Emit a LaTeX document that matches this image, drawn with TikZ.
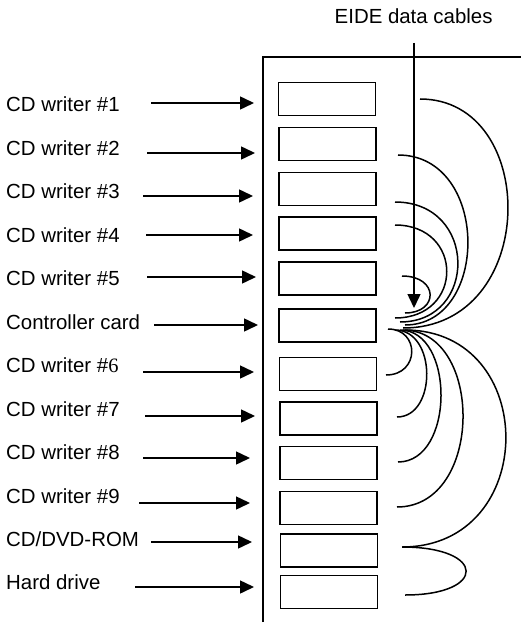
\documentclass[tikz,border=0pt]{standalone}
\usepackage{fontspec}
\setmainfont{Liberation Sans}
\newfontfamily\timesfont{Liberation Serif}
\usetikzlibrary{arrows.meta}
\begin{document}
\begin{tikzpicture}[x=1bp,y=-1bp,
  box/.style={draw, line width=1.9bp, minimum width=97bp, minimum height=33bp, inner sep=0pt},
  lbl/.style={anchor=base west, inner sep=0pt, font=\fontsize{20.5}{24}\selectfont},
  arr/.style={line width=1.5bp, -{Triangle[length=14bp,width=13bp]}},
  cable/.style={line width=1.5bp},
  wall/.style={line width=1.6bp}]
\useasboundingbox (0,0) rectangle (521,627);
% enclosure
\coordinate (wtop) at (263,57);
\coordinate (wright) at (521,57);
\coordinate (wbot) at (263,622);
\draw[wall] (wbot) -- (wtop) -- (wright);
% drive boxes
\foreach \n/\x/\y in {b1/327/99, b2/327.5/144, b3/327.5/189, b4/327.5/233.5, b5/327.5/278.5,
  bc/327.5/325.5, b6/328/374, b7/328.5/418.5, b8/328.5/463, b9/328.5/508, bd/329/550.5, bh/329/592}
  \node[box] (\n) at (\x,\y) {};
% labels and arrows
\foreach \n/\yb/\txt/\xs/\ya/\xe in {
  1/111.7/{CD writer \#1}/151/103/254,
  2/155.7/{CD writer \#2}/147/153/255,
  3/198.3/{CD writer \#3}/143/196/253,
  4/242.3/{CD writer \#4}/146/235/253,
  5/285/{CD writer \#5}/147/277/256,
  c/329.3/{Controller card}/154/325/258,
  6/372.7/{CD writer \#{\timesfont 6}}/143/372/254,
  7/416/{CD writer \#7}/145/416/255,
  8/459.3/{CD writer \#8}/143/458/250,
  9/503.3/{CD writer \#9}/139/503/250,
  d/546.7/{CD/DVD-ROM}/151/542/252,
  h/589.3/{Hard drive}/135/587/254}{
  \node[lbl] (l\n) at (6,\yb) {\txt};
  \coordinate (as\n) at (\xs,\ya);
  \coordinate (ae\n) at (\xe,\ya);
  \draw[arr] (as\n) -- (ae\n);
}
% EIDE label and arrow
\node[lbl] (eide) at (334.5,24) {EIDE data cables};
\coordinate (es) at (414,43);
\coordinate (et) at (414,308);
\draw[arr] (es) -- (et);
% cable end points
\coordinate (k1) at (420,99);  \coordinate (t1) at (403,328);
\coordinate (k2) at (398,155); \coordinate (t2) at (405,325);
\coordinate (k3) at (395,202); \coordinate (t3) at (400,322);
\coordinate (k4) at (395,225); \coordinate (t4) at (395,318);
\coordinate (k5) at (402,276); \coordinate (t5) at (405,313);
\coordinate (s6) at (388,329); \coordinate (k6) at (386,375);
\coordinate (s7) at (395,330); \coordinate (k7) at (397,417);
\coordinate (s8) at (400,330); \coordinate (k8) at (398,462);
\coordinate (s9) at (403,330); \coordinate (k9) at (397,507);
\coordinate (sd) at (405,330); \coordinate (kd) at (402,547);
\coordinate (kh) at (405,595);
% cables above the controller
\draw[cable] (k1) .. controls +(120,0) and +(137,0) .. (t1);
\draw[cable] (k2) .. controls +(92,0) and +(85,0) .. (t2);
\draw[cable] (k3) .. controls +(83,0) and +(78,0) .. (t3);
\draw[cable] (k4) .. controls +(69,0) and +(69,0) .. (t4);
\draw[cable] (k5) .. controls +(37,0) and +(34,0) .. (t5);
% cables below the controller
\draw[cable] (s6) .. controls +(32,0) and +(34,0) .. (k6);
\draw[cable] (s7) .. controls +(42,0) and +(40,0) .. (k7);
\draw[cable] (s8) .. controls +(55,0) and +(57,0) .. (k8);
\draw[cable] (s9) .. controls +(81,0) and +(87,0) .. (k9);
\draw[cable] (sd) .. controls +(135,0) and +(138,0) .. (kd);
\draw[cable] (kd) .. controls +(85,0) and +(82,0) .. (kh);
\end{tikzpicture}
\end{document}
